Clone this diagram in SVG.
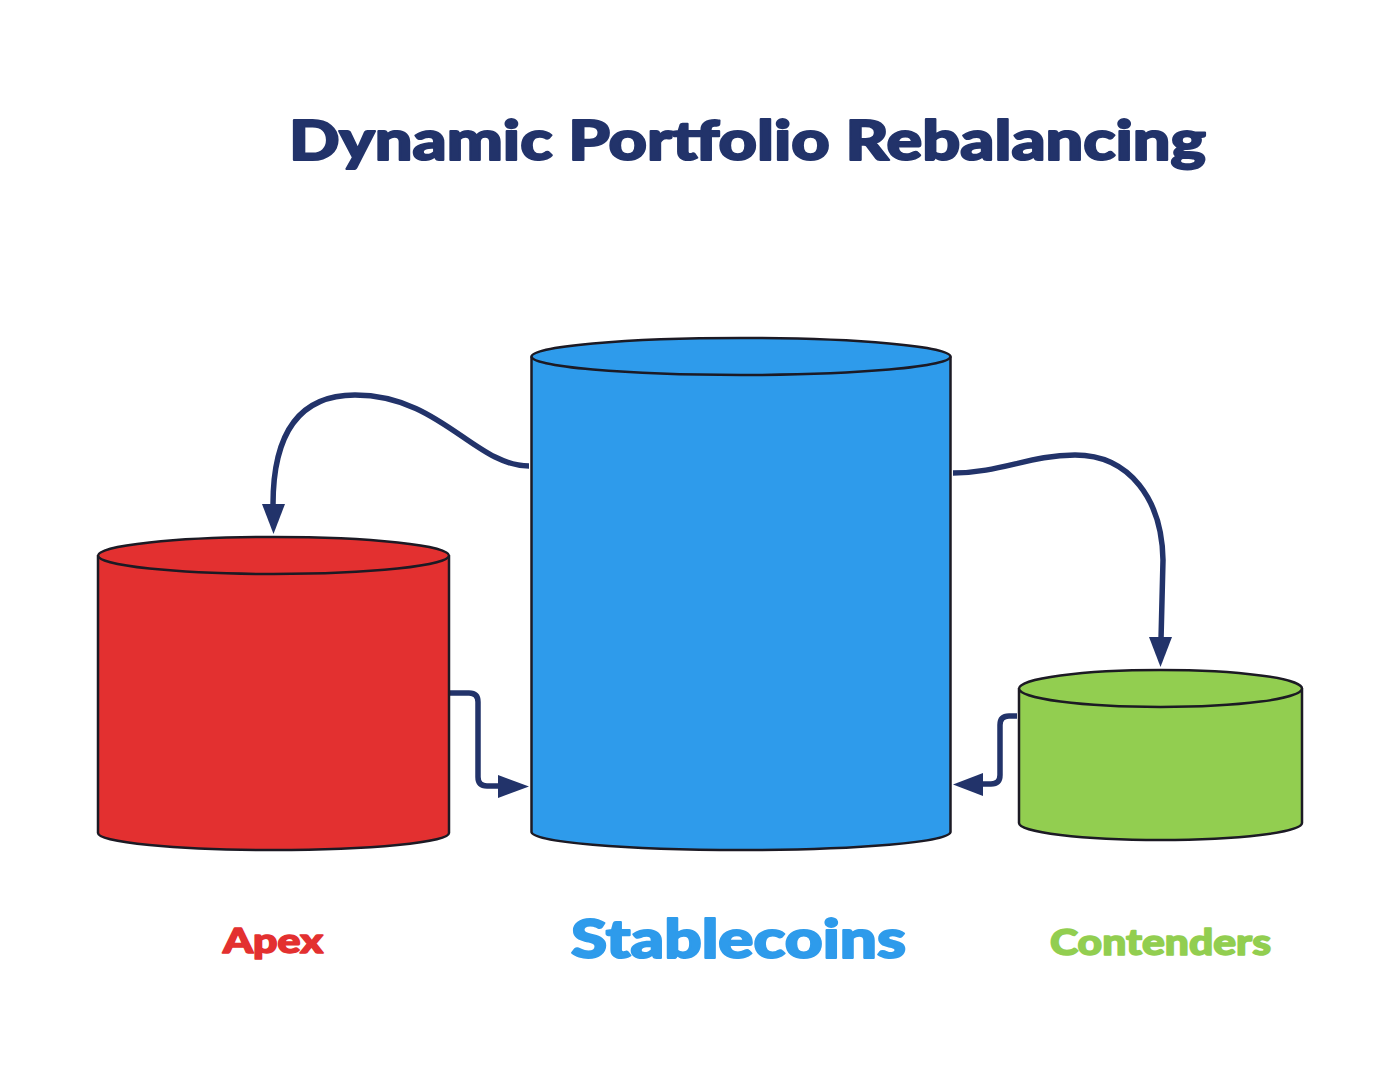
<svg xmlns="http://www.w3.org/2000/svg" width="1400" height="1075" viewBox="0 0 1400 1075">
<style>
.cyl{stroke:#1c1a24;stroke-width:2.5;stroke-linejoin:round}
.red{fill:#e33030}.blue{fill:#2e9beb}.green{fill:#92ce50}
.conn{fill:none;stroke:#22336a;stroke-width:5.5;stroke-linecap:butt;stroke-linejoin:round}
.head{fill:#22336a}
.t{font-family:Lato,"Open Sans","DejaVu Sans",sans-serif;font-weight:900;text-anchor:middle;stroke-linejoin:round}
</style>
<rect width="1400" height="1075" fill="#ffffff"/>
<text class="t" x="747.5" y="160" font-size="56" fill="#22336a" stroke="#22336a" stroke-width="2" textLength="917" lengthAdjust="spacingAndGlyphs">Dynamic Portfolio Rebalancing</text>

<g id="connectors">
<path class="conn" d="M529,466 C475,466 440,395 355,395 C300,395 273,432 273,505"/>
<polygon class="head" points="262,504 285,504 273.5,534"/>
<path class="conn" d="M953,473 C1000,473 1030,455 1075,455 C1130,455 1162,500 1163,560 L1161,640"/>
<polygon class="head" points="1149,637 1172,637 1160.5,667"/>
<path class="conn" d="M449,693 L469,693 Q478,693 478,702 L478,777 Q478,786 487,786 L500,786"/>
<polygon class="head" points="498,775 498,798 529,786.5"/>
<path class="conn" d="M1017,716 L1009,716 Q1000,716 1000,725 L1000,775 Q1000,784 991,784 L982,784"/>
<polygon class="head" points="983,773 983,796 953,784.5"/>
</g>

<g id="apex">
<path class="cyl red" d="M98,555.5 L98,833 A175.5,17 0 0 0 449,833 L449,555.5"/>
<ellipse class="cyl red" cx="273.5" cy="555.5" rx="175.5" ry="18.5"/>
<text class="t" x="273" y="953" font-size="34" fill="#e33030" stroke="#e33030" stroke-width="1.5" textLength="100" lengthAdjust="spacingAndGlyphs">Apex</text>
</g>

<g id="stablecoins">
<path class="cyl blue" d="M531.5,356.5 L531.5,832 A209.5,18 0 0 0 950.5,832 L950.5,356.5"/>
<ellipse class="cyl blue" cx="741" cy="356.5" rx="209.5" ry="18.5"/>
<text class="t" x="738.5" y="958" font-size="54" fill="#2e9beb" stroke="#2e9beb" stroke-width="2" textLength="335" lengthAdjust="spacingAndGlyphs">Stablecoins</text>
</g>

<g id="contenders">
<path class="cyl green" d="M1019,688.5 L1019,823 A141.5,17 0 0 0 1302,823 L1302,688.5"/>
<ellipse class="cyl green" cx="1160.5" cy="688.5" rx="141.5" ry="18.5"/>
<text class="t" x="1160.5" y="955" font-size="36" fill="#92ce50" stroke="#92ce50" stroke-width="1.5" textLength="221" lengthAdjust="spacingAndGlyphs">Contenders</text>
</g>
</svg>
